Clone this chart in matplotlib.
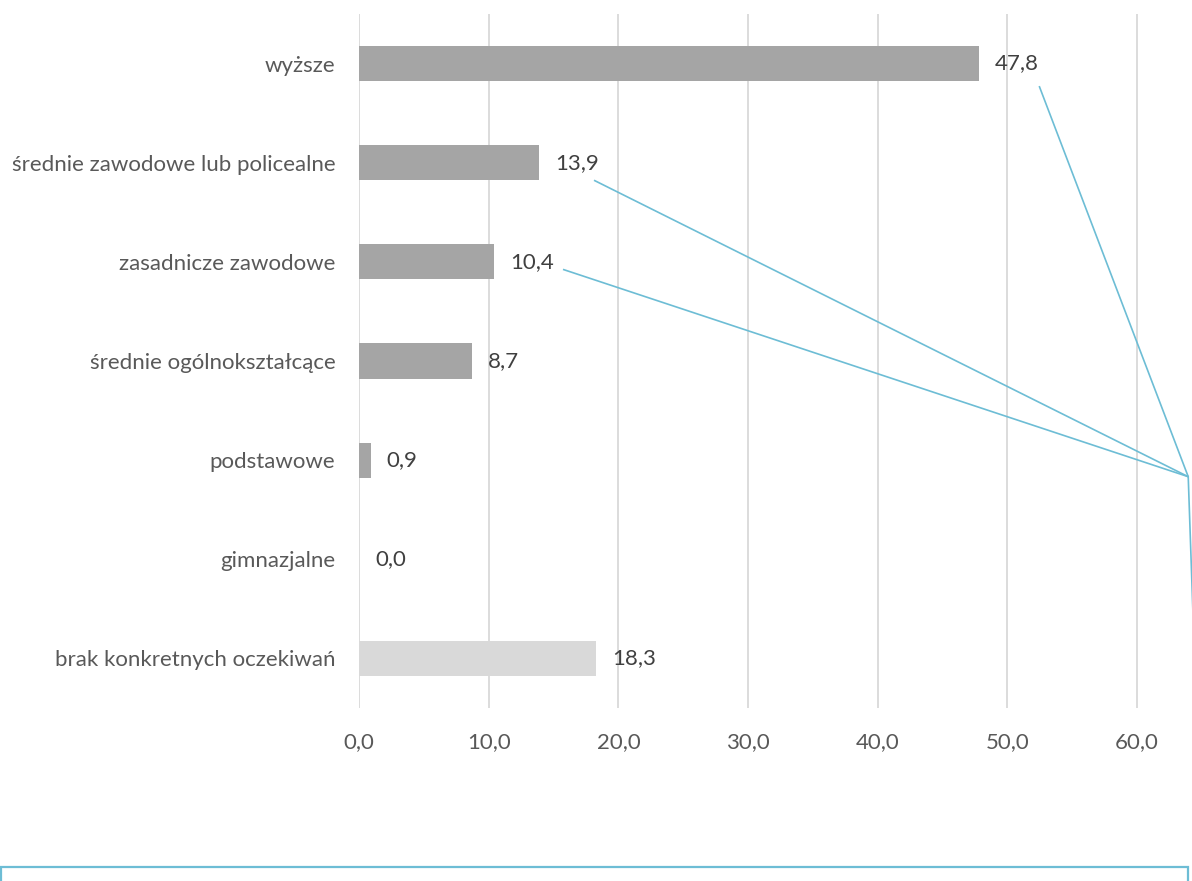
import matplotlib
matplotlib.use("Agg")
import matplotlib.pyplot as plt
from matplotlib.patches import Rectangle

# Expected level of education (percent of answers)
categories = [
    "wyższe",
    "średnie zawodowe lub policealne",
    "zasadnicze zawodowe",
    "średnie ogólnokształcące",
    "podstawowe",
    "gimnazjalne",
    "brak konkretnych oczekiwań",
]
values = [47.8, 13.9, 10.4, 8.7, 0.9, 0.0, 18.3]
x_ticks = [0, 10, 20, 30, 40, 50, 60]

BAR_DARK = "#A5A5A5"
BAR_LIGHT = "#D9D9D9"
GRID = "#D9D9D9"
CALLOUT = "#6DBDD5"
LABEL_COLOR = "#595959"
VALUE_COLOR = "#404040"
FS = 16

plt.rcParams["font.family"] = ["Lato", "DejaVu Sans"]

W, H, DPI = 1192, 881, 100
fig = plt.figure(figsize=(W / DPI, H / DPI), dpi=DPI)
ax = fig.add_axes([359 / W, 1 - 708 / H, (1189 - 359) / W, (708 - 14) / H])

ypos = list(range(len(categories)))
colors = [BAR_DARK] * (len(categories) - 1) + [BAR_LIGHT]
ax.barh(ypos, values, height=0.355, color=colors, zorder=2)

ax.set_xlim(0, 64)
ax.set_ylim(len(categories) - 0.5, -0.5)
ax.set_yticks(ypos)
ax.set_yticklabels(categories, fontsize=FS, color=LABEL_COLOR)
ax.set_xticks(x_ticks)
ax.set_xticklabels([f"{t:.1f}".replace(".", ",") for t in x_ticks],
                   fontsize=FS, color=LABEL_COLOR)
ax.tick_params(axis="both", length=0)
ax.tick_params(axis="y", pad=17)
ax.tick_params(axis="x", pad=17)
ax.grid(axis="x", color=GRID, linewidth=1.3, zorder=0)
for s in ax.spines.values():
    s.set_visible(False)

# value labels right of each bar
for y, v in zip(ypos, values):
    ax.annotate(f"{v:.1f}".replace(".", ","), xy=(v, y), xytext=(11.5, 0),
                textcoords="offset points", ha="left", va="center",
                fontsize=FS, color=VALUE_COLOR, zorder=3)

# callout leader lines gathered at one point on the right edge
hub = (63.94, 4.167)
tail = (64.4, 5.9)
leader_starts = [(52.45, 0.227), (18.12, 1.177), (15.73, 2.076)]
for sx, sy in leader_starts:
    ax.plot([sx, hub[0]], [sy, hub[1]], color=CALLOUT, lw=1.2,
            clip_on=False, zorder=4, solid_capstyle="butt")
ax.plot([hub[0], tail[0]], [hub[1], tail[1]], color=CALLOUT, lw=1.2,
        clip_on=False, zorder=4)

# frame of the caption box below the chart
fig.patches.append(Rectangle((1 / W, -0.05), (1188 - 1) / W, (0.05 + (H - 867) / H),
                             transform=fig.transFigure, fill=False,
                             edgecolor=CALLOUT, linewidth=1.6))

fig.savefig("out.png", dpi=DPI)
